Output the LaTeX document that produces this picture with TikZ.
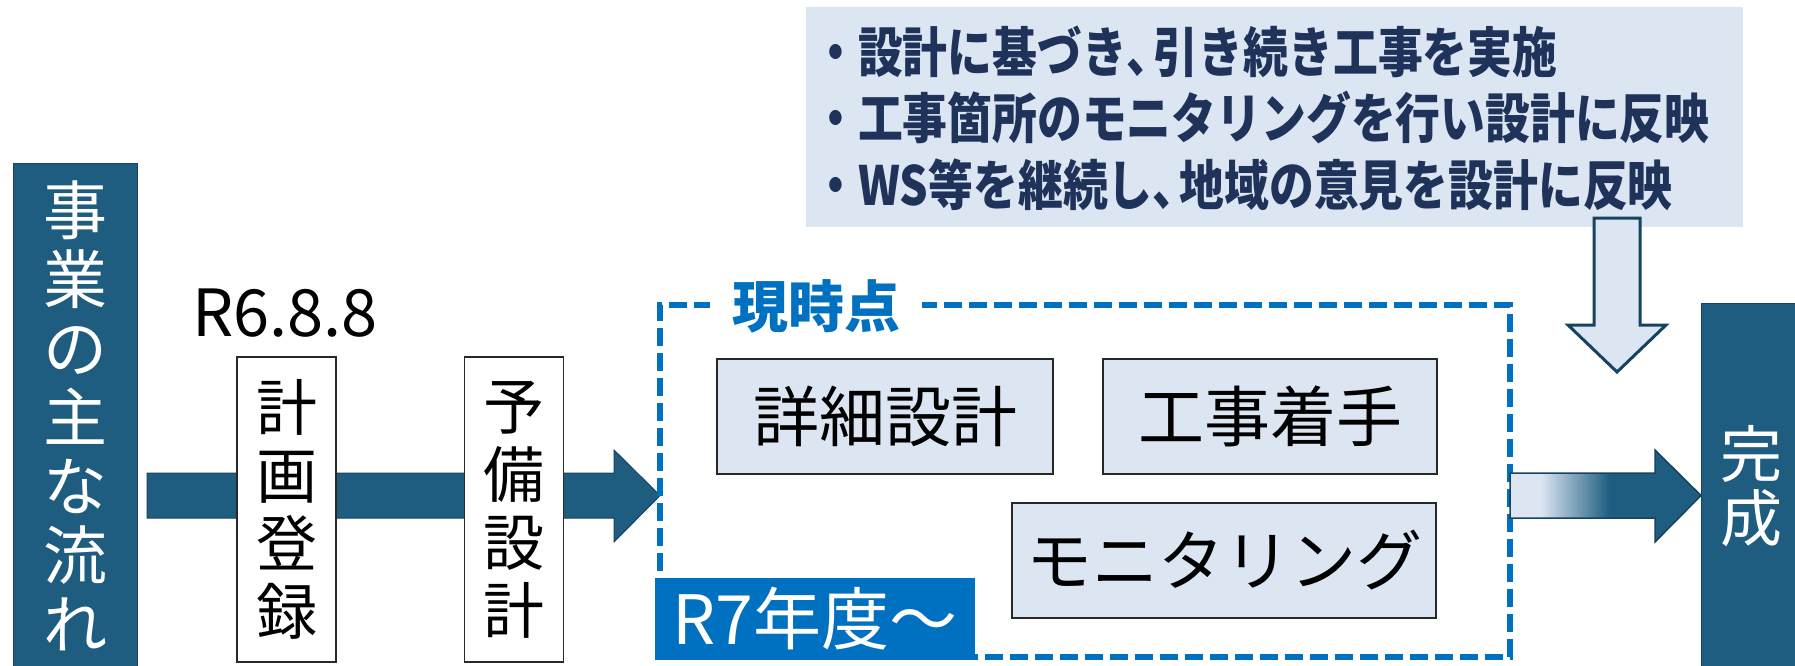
\documentclass[tikz,border=0pt]{standalone}
\usepackage{fontspec}
\setmainfont{Noto Sans CJK JP}
\newfontfamily\jpcond[FakeStretch=0.83]{Noto Sans CJK JP}
\usetikzlibrary{calc}
\definecolor{flowdark}{RGB}{30,93,127}
\definecolor{flowedge}{RGB}{22,68,94}
\definecolor{paleblue}{RGB}{220,230,242}
\definecolor{dashblue}{RGB}{0,112,192}
\definecolor{navytext}{RGB}{30,50,90}
\definecolor{boxedge}{RGB}{40,40,40}
\pgfdeclarehorizontalshading{fadein}{100bp}{color(0bp)=(paleblue); color(33bp)=(paleblue); color(51bp)=(flowdark); color(100bp)=(flowdark)}
\newcommand\halfcomma{\makebox[0.5em][l]{、}}
\begin{document}
\begin{tikzpicture}[x=1pt,y=-1pt,
  flowbox/.style={draw=flowedge, fill=flowdark, line width=1pt, text=white, inner sep=0pt, align=center},
  vbox/.style={draw=boxedge, fill=white, line width=1.5pt, inner sep=0pt, align=center, minimum width=99pt, minimum height=305pt, font=\fontsize{61}{68}\selectfont},
  taskbox/.style={draw=boxedge, fill=paleblue, line width=2pt, inner sep=0pt, minimum height=115pt, font=\fontsize{66}{70}\selectfont},
  blockarrow/.style={fill=flowdark, draw=flowedge, line width=1pt},
]
\useasboundingbox (0,0) rectangle (1795,665);
\fill[white] (0,0) rectangle (1795,665);

% top note box
\node[fill=paleblue, minimum width=937pt, minimum height=220pt, inner sep=0pt] (notes) at (1274.5,117) {};
\node[anchor=west, align=left, inner sep=0pt, text=navytext, font=\jpcond\bfseries\fontsize{54}{66.5}\selectfont] (notetext) at (813,118) {・設計に基づき\halfcomma 引き続き工事を実施\\・工事箇所のモニタリングを行い設計に反映\\・WS等を継続し\halfcomma 地域の意見を設計に反映};

% main flow arrow
\coordinate (mainstart) at (147,495.5);
\filldraw[blockarrow] (mainstart) ++(0,-22.5) -- (614,473) -- (614,450) -- (660,495.5) -- (614,542) -- (614,518) -- (147,518) -- cycle;

% left label
\node[flowbox, minimum width=124pt, minimum height=505pt, font=\fontsize{64}{69}\selectfont] (flow) at (75,415.5) {事\\業\\の\\主\\な\\流\\れ};

\node[font=\fontsize{65}{70}\selectfont, inner sep=0pt] (date) at (285,313.5) {R6.8.8};
\node[vbox] (keikaku) at (286.5,509.5) {計\\画\\登\\録};
\node[vbox] (yobi) at (514,509.5) {予\\備\\設\\計};

% current-stage frame
\node[draw=dashblue, line width=5.5pt, dash pattern=on 18pt off 7pt, minimum width=850pt, minimum height=352pt, inner sep=0pt] (now) at (1085,481) {};
\node[fill=white, text=dashblue, font=\bfseries\fontsize{56}{60}\selectfont, inner xsep=22pt, inner ysep=0pt] (nowlabel) at (816,306) {現時点};
\node[fill=dashblue, text=white, minimum width=320pt, minimum height=82pt, inner sep=0pt, font=\fontsize{68}{72}\selectfont] (r7) at (815,619) {R7年度～};

\node[taskbox, minimum width=336pt] (shosai) at (885,416.5) {詳細設計};
\node[taskbox, minimum width=334pt] (koji) at (1270,416.5) {工事着手};
\node[taskbox, minimum width=424pt] (moni) at (1224,560.5) {モニタリング};

% gradient arrow to completion
\shade[shading=fadein] (1510,473) -- (1655,473) -- (1655,450) -- (1701,495.5) -- (1655,542) -- (1655,518) -- (1510,518) -- cycle;
\draw[flowedge, line width=1.5pt] (1510,473) -- (1655,473) -- (1655,450) -- (1701,495.5) -- (1655,542) -- (1655,518) -- (1510,518) -- cycle;

\node[flowbox, minimum width=100pt, minimum height=365pt, font=\fontsize{62}{63.5}\selectfont] (done) at (1751,486) {完\\成};

% down arrow from notes
\filldraw[fill=paleblue, draw=flowedge, line width=3pt] (1594,218) -- (1640,218) -- (1640,325) -- (1666,325) -- (1617,372) -- (1568,325) -- (1594,325) -- cycle;
\end{tikzpicture}
\end{document}
